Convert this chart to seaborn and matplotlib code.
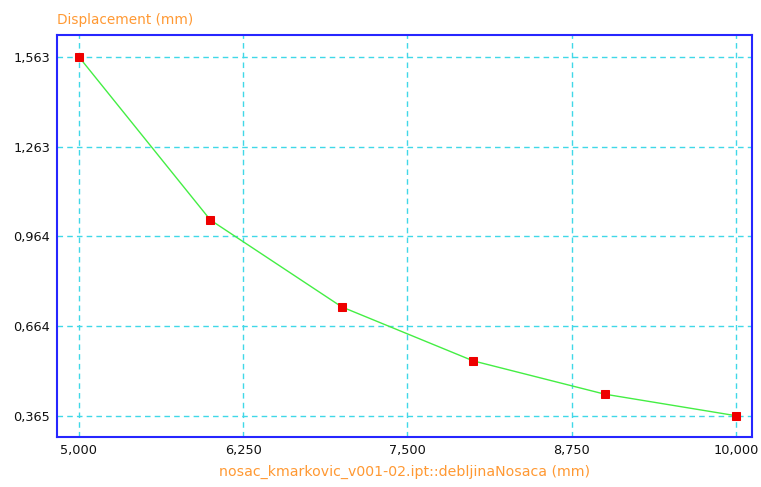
# Grafico de desplazamiento vs debljinaNosaca

import pandas as pd
import seaborn as sns
import matplotlib
matplotlib.use("Agg")
import matplotlib.pyplot as plt

#%% Datos
debljina = [5.0, 6.0, 7.0, 8.0, 9.0, 10.0]
displacement = [1.563, 1.019, 0.729, 0.549, 0.438, 0.366]

x_ticks = [5.0, 6.25, 7.5, 8.75, 10.0]
x_tick_labels = ["5,000", "6,250", "7,500", "8,750", "10,000"]
y_ticks = [0.365, 0.664, 0.964, 1.263, 1.563]
y_tick_labels = ["0,365", "0,664", "0,964", "1,263", "1,563"]

df = pd.DataFrame({"debljina": debljina, "displacement": displacement})

#%% Grafico
sns.set_style("white")
plt.rcParams["font.family"] = ["DejaVu Sans"]

fig = plt.figure(figsize=(7.61, 4.87), dpi=100)
ax = fig.add_axes([57 / 761, 1 - 437 / 487, 695 / 761, 402 / 487])

sns.lineplot(data=df, x="debljina", y="displacement", ax=ax,
             color="#44ee44", linewidth=1.0, marker="s", markersize=5.5,
             markerfacecolor="#ee0000", markeredgecolor="#ee0000", zorder=3)

ax.set_xlim(4.833, 10.122)
ax.set_ylim(0.295, 1.636)
ax.set_xticks(x_ticks)
ax.set_xticklabels(x_tick_labels, fontsize=9.3, color="#111111")
ax.set_yticks(y_ticks)
ax.set_yticklabels(y_tick_labels, fontsize=9.3, color="#111111")
ax.tick_params(length=0, pad=5)

ax.grid(True, color="#40d8e8", linestyle=(0, (4, 3)), linewidth=1.0)
for s in ax.spines.values():
    s.set_color("#2626ff")
    s.set_linewidth(1.5)

ax.set_xlabel("nosac_kmarkovic_v001-02.ipt::debljinaNosaca (mm)",
              fontsize=10.2, color="#ff9933", labelpad=6)
ax.set_ylabel("")
fig.text(57 / 761, 1 - 20 / 487, "Displacement (mm)", fontsize=9.8,
         color="#ff9933", ha="left", va="center")

fig.savefig("out.png", dpi=100)
